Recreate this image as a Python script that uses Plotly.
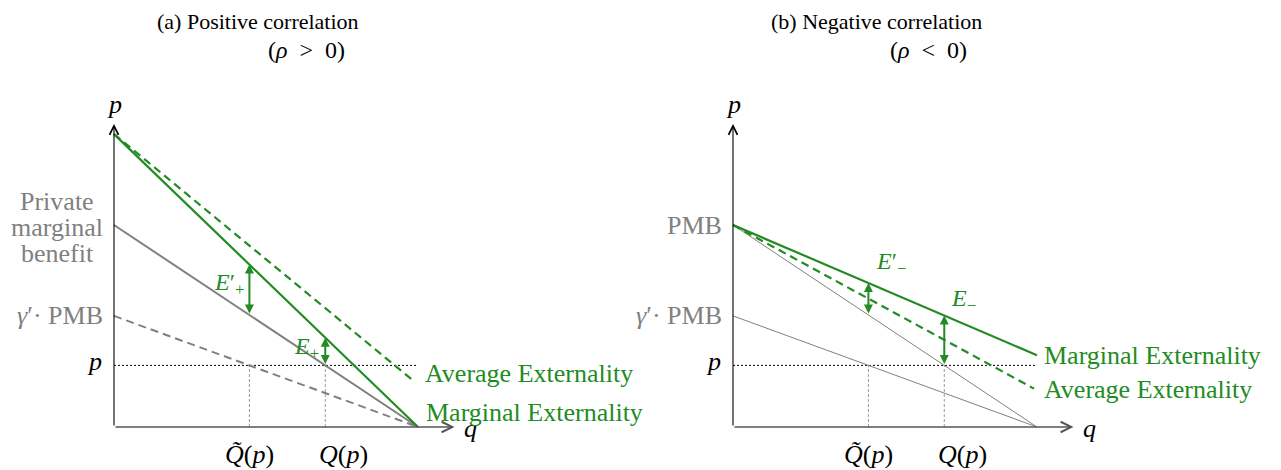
import numpy as np
import plotly.graph_objects as go

GREEN = "#228B22"
GRAY = "#808080"
FONT = "Liberation Serif"

W, H = 1281, 470

# shared quantities (q on the horizontal axis, p on the vertical axis)
q_axis_end = 1.12
p_axis_end = 3.0
price = 0.61

# (a) positive correlation: endpoints of each curve, (q, p)
a_pmb_q, a_pmb_p = [0.0, 1.0], [2.0, 0.0]
a_gpmb_q, a_gpmb_p = [0.0, 1.0], [1.1, 0.0]
a_me_q, a_me_p = [0.0, 1.0], [2.9, 0.0]
a_ae_q, a_ae_p = [0.0, 0.98], [2.9, 0.47]

# (b) negative correlation
b_pmb_q, b_pmb_p = [0.0, 1.0], [2.0, 0.0]
b_gpmb_q, b_gpmb_p = [0.0, 1.0], [1.1, 0.0]
b_me_q, b_me_p = [0.0, 1.0], [2.0, 0.71]
b_ae_q, b_ae_p = [0.0, 0.99], [2.0, 0.38]

SP = "\u2002"   # math-style spacing around relations
titles = [("(a) Positive correlation", f"(<i>ρ</i>{SP}>{SP}0)"),
          ("(b) Negative correlation", f"(<i>ρ</i>{SP}<{SP}0)")]


def p_at(qs, ps, q):
    return float(np.interp(q, qs, ps))


def q_at(qs, ps, p):
    return float(np.interp(p, ps[::-1], qs[::-1]))


fig = go.Figure()
ann = []


def line(q, p, ax, color, width, dash="solid"):
    fig.add_trace(go.Scatter(x=q, y=p, mode="lines", xaxis=ax[0], yaxis=ax[1],
                             line=dict(color=color, width=width, dash=dash),
                             hoverinfo="skip", showlegend=False))


def arrow(ax, x0, y0, x1, y1, color, width, head, size, both=False):
    a = dict(xref=ax[0], yref=ax[1], axref=ax[0], ayref=ax[1],
             x=x1, y=y1, ax=x0, ay=y0, text="", showarrow=True,
             arrowcolor=color, arrowwidth=width, arrowhead=head,
             arrowsize=size, standoff=0, startstandoff=0)
    if both:
        a.update(arrowside="end+start", startarrowhead=head, startarrowsize=size)
    ann.append(a)


def text(ax, x, y, s, size, color="black", xanchor="center", yanchor="middle",
         xshift=0, yshift=0):
    ann.append(dict(xref=ax[0], yref=ax[1], x=x, y=y, text=s, showarrow=False,
                    font=dict(family=FONT, size=size, color=color),
                    xanchor=xanchor, yanchor=yanchor, xshift=xshift, yshift=yshift))


def panel(ax, pmb, gpmb, me, ae, thin, left):
    pmb_q, pmb_p = pmb
    gpmb_q, gpmb_p = gpmb
    me_q, me_p = me
    ae_q, ae_p = ae
    q_hat = q_at(pmb_q, pmb_p, price)          # Q(p)
    q_til = q_at(gpmb_q, gpmb_p, price)        # Q~(p)

    # reference lines at the market price
    line([0, pmb_q[-1]], [price, price], ax, "black", 1, "2px,2px")
    line([q_til, q_til], [0, price], ax, "#9a9a9a", 1, "3px,2px")
    line([q_hat, q_hat], [0, price], ax, "#9a9a9a", 1, "3px,2px")

    # benefit curves
    gw = 1 if thin else 2
    line(pmb_q, pmb_p, ax, GRAY, gw)
    line(gpmb_q, gpmb_p, ax, GRAY, gw, "solid" if thin else "8px,5px")

    # externality curves
    line(ae_q, ae_p, ax, GREEN, 2.2, "8px,5px")
    line(me_q, me_p, ax, GREEN, 2.2)

    # axes
    arrow(ax, 0, 0, q_axis_end, 0, "#555555", 1.3, 5, 1.6)
    arrow(ax, 0, 0, 0, p_axis_end, "black", 1.1, 5, 1.6)
    text(ax, 0, p_axis_end, "<i>p</i>", 26, yshift=20)
    text(ax, q_axis_end, 0, "<i>q</i>", 26, xanchor="left", xshift=8, yshift=-1)

    # price and quantity labels
    text(ax, 0, price, "<i>p</i>", 26, xanchor="right", xshift=-10, yshift=4)
    text(ax, q_til, 0, "<i>Q\u0303</i>(<i>p</i>)", 26, yshift=-27)
    text(ax, q_hat, 0, "<i>Q</i>(<i>p</i>)", 26, xshift=18, yshift=-27)

    # gap arrows
    if left:
        y_lo, y_hi = price, p_at(me_q, me_p, q_hat)
        arrow(ax, q_hat, y_lo, q_hat, y_hi, GREEN, 2, 2, 0.9, both=True)
        text(ax, q_hat, (y_lo + y_hi) / 2, "<i>E</i><sub>+</sub>", 24, GREEN,
             xanchor="right", xshift=-4, yshift=4)
        y_lo, y_hi = p_at(pmb_q, pmb_p, q_til), p_at(me_q, me_p, q_til)
        arrow(ax, q_til, y_lo, q_til, y_hi, GREEN, 2, 2, 0.9, both=True)
        text(ax, q_til, (y_lo + y_hi) / 2, "<i>E</i>′<sub>+</sub>", 24, GREEN,
             xanchor="right", xshift=-3, yshift=6)
    else:
        y_lo, y_hi = p_at(pmb_q, pmb_p, q_til), p_at(me_q, me_p, q_til)
        arrow(ax, q_til, y_lo, q_til, y_hi, GREEN, 2, 2, 0.9, both=True)
        text(ax, q_til, y_hi, "<i>E</i>′<sub>−</sub>", 24, GREEN,
             xanchor="left", xshift=6, yshift=20)
        y_lo, y_hi = price, p_at(me_q, me_p, q_hat)
        arrow(ax, q_hat, y_lo, q_hat, y_hi, GREEN, 2, 2, 0.9, both=True)
        text(ax, q_hat, y_hi, "<i>E</i><sub>−</sub>", 24, GREEN,
             xanchor="left", xshift=5, yshift=16)

    # curve labels
    if left:
        text(ax, ae_q[-1], ae_p[-1], "Average Externality", 26, GREEN,
             xanchor="left", xshift=11, yshift=6)
        text(ax, me_q[-1], me_p[-1], "Marginal Externality", 26, GREEN,
             xanchor="left", xshift=6, yshift=15)
        for i, s in enumerate(["Private", "marginal", "benefit"]):
            text(ax, 0, pmb_p[0], s, 26, GRAY, xshift=-57, yshift=24 - 26 * i)
    else:
        text(ax, me_q[-1], me_p[-1], "Marginal Externality", 26, GREEN,
             xanchor="left", xshift=5)
        text(ax, ae_q[-1], ae_p[-1], "Average Externality", 26, GREEN,
             xanchor="left", xshift=8, yshift=-1)
        text(ax, 0, pmb_p[0], "PMB", 26, GRAY, xanchor="right", xshift=-9)
    text(ax, 0, gpmb_p[0], "<i>γ</i>′· PMB", 26, GRAY, xanchor="right", xshift=-9)


panel(("x", "y"), (a_pmb_q, a_pmb_p), (a_gpmb_q, a_gpmb_p),
      (a_me_q, a_me_p), (a_ae_q, a_ae_p), thin=False, left=True)
panel(("x2", "y2"), (b_pmb_q, b_pmb_p), (b_gpmb_q, b_gpmb_p),
      (b_me_q, b_me_p), (b_ae_q, b_ae_p), thin=True, left=False)

# panel captions
for (l1, l2), cx1, cx2 in zip(titles, [257.5, 876.0], [306.5, 928.5]):
    ann.append(dict(xref="paper", yref="paper", x=cx1 / W, y=1 - 21 / H, text=l1,
                    showarrow=False, xanchor="center", yanchor="middle",
                    font=dict(family=FONT, size=22, color="black")))
    ann.append(dict(xref="paper", yref="paper", x=cx2 / W, y=1 - 50 / H, text=l2,
                    showarrow=False, xanchor="center", yanchor="middle",
                    font=dict(family=FONT, size=24, color="black")))

# pixel scale: 304 px per unit of q, 101 px per unit of p
qs, ps = 304.0, 101.0
y_range = [-(H - 427) / ps, 427 / ps]
half = W / 2
ax_common = dict(visible=False, showgrid=False, zeroline=False, fixedrange=True)
fig.update_layout(
    width=W, height=H, margin=dict(l=0, r=0, t=0, b=0),
    paper_bgcolor="white", plot_bgcolor="white", showlegend=False,
    xaxis=dict(domain=[0, 0.5], range=[-114 / qs, (half - 114) / qs], **ax_common),
    yaxis=dict(domain=[0, 1], range=y_range, anchor="x", **ax_common),
    xaxis2=dict(domain=[0.5, 1], range=[(half - 733) / qs, (W - 733) / qs], **ax_common),
    yaxis2=dict(domain=[0, 1], range=y_range, anchor="x2", **ax_common),
    annotations=ann,
)

fig.write_html("out.html", config=dict(displayModeBar=False))
